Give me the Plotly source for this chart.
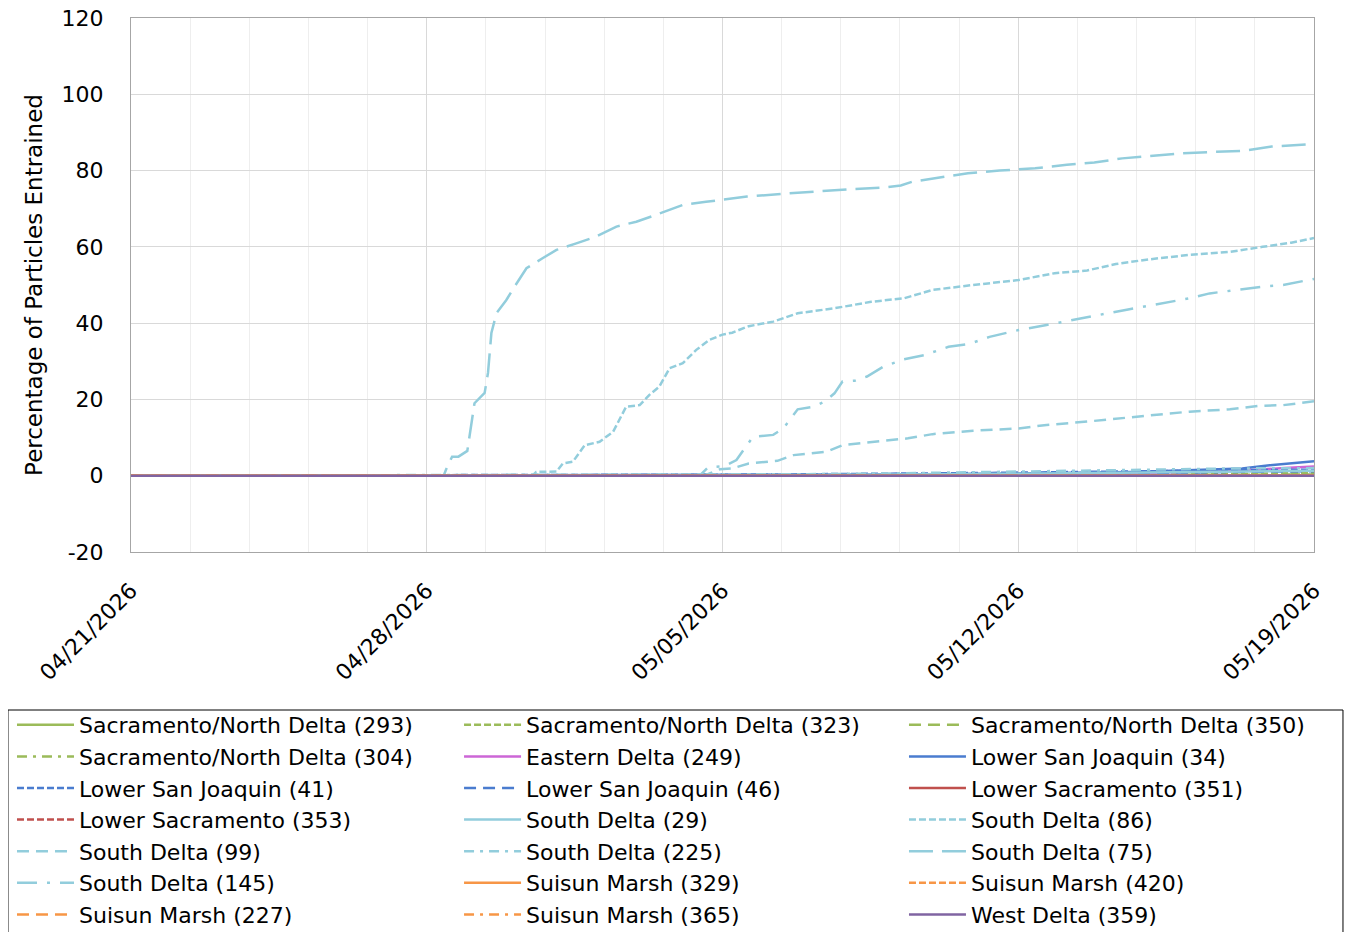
import pandas as pd
import plotly.graph_objects as go

# days after 04/21/2026, and percentage entrained
start = pd.Timestamp("2026-04-21")

sd75_day = [0, 7.4, 7.46, 7.6, 7.75, 7.96, 8.13, 8.37, 8.45, 8.53, 8.65, 8.88, 9.08, 9.36, 9.74,
            10.07, 10.54, 11.01, 11.49, 11.96, 12.43, 12.75, 13.06, 13.61, 14.09, 14.58, 15.42,
            16.17, 17.0, 17.85, 18.22, 18.5, 19.06, 19.81, 20.56, 21.4, 22.15, 22.8, 23.46,
            24.11, 24.86, 25.6, 26.36, 27.0, 28.0]
sd75_val = [0, 0, 1.7, 5.0, 5.0, 6.5, 19, 21.7, 27, 37.4, 42.6, 46, 49.6, 54.4, 57,
            59.2, 60.9, 62.7, 65.3, 66.6, 68.4, 69.7, 71.0, 71.8, 72.5, 73.2, 73.9,
            74.5, 75.1, 75.6, 76.1, 77.1, 78.0, 79.3, 80.0, 80.6, 81.5, 82.1, 83.2,
            83.8, 84.5, 84.9, 85.2, 86.3, 87.0]

sd86_day = [0, 9.5, 9.59, 10.07, 10.22, 10.46, 10.74, 11.09, 11.41, 11.72, 12.04, 12.27, 12.5,
            12.75, 13.06, 13.38, 13.69, 14.0, 14.23, 14.62, 15.2, 15.78, 16.65, 17.52, 18.29,
            18.97, 19.93, 21.01, 21.86, 22.63, 23.31, 24.08, 25.05, 26.01, 26.78, 27.46, 28.0]
sd86_val = [0, 0, 1.0, 1.1, 3.2, 3.7, 8.0, 8.9, 11.5, 18.1, 18.5, 21.2, 23.3,
            28.2, 29.5, 33, 35.6, 37.0, 37.5, 39.2, 40.4, 42.6, 43.9, 45.6, 46.5,
            48.7, 50.0, 51.3, 53.1, 53.8, 55.5, 56.7, 57.9, 58.7, 60.0, 61.1, 62.3]

sd145_day = [0, 13.46, 13.66, 14.04, 14.33, 14.5, 14.72, 15.2, 15.44, 15.78, 16.17, 16.41, 16.65,
             16.84, 17.13, 17.42, 17.81, 18.29, 18.77, 19.35, 19.83, 20.32, 21.01, 21.67, 22.25,
             23.12, 23.6, 24.18, 25.05, 25.53, 26.11, 26.88, 27.27, 28.0]
sd145_val = [0, 0, 2.2, 2.5, 4.1, 6.7, 10.2, 10.7, 12.4, 17.4, 18.1, 19.4, 21.6,
             24.7, 24.9, 26.0, 28.6, 30.5, 31.6, 33.8, 34.5, 36.4, 38.2, 39.5, 40.8,
             42.6, 43.6, 44.8, 46.5, 47.8, 48.7, 49.7, 50.0, 51.6]

sd99_day = [0, 13.56, 13.94, 14.23, 14.62, 15.3, 15.68, 16.46, 16.84, 17.62, 18.39, 18.97, 19.93,
            21.01, 21.67, 22.63, 23.21, 24.08, 25.05, 26.01, 26.69, 27.27, 28.0]
sd99_val = [0, 0, 1.7, 1.9, 3.2, 3.9, 5.4, 6.3, 8.0, 8.9, 9.8, 10.9, 11.8,
            12.4, 13.3, 14.2, 14.8, 15.7, 16.8, 17.4, 18.3, 18.5, 19.5]

sd225_day = [0, 13.5, 16, 18, 20, 22, 24, 26, 28]
sd225_val = [0, 0.2, 0.4, 0.6, 0.9, 1.3, 1.7, 1.9, 2.0]
lsj34_day = [0, 14, 18, 21, 23.7, 25, 26.3, 26.9, 27.7, 28]
lsj34_val = [0, 0.1, 0.3, 0.6, 1.0, 1.4, 1.9, 2.7, 3.4, 3.8]
ed249_day = [0, 21, 23, 24.5, 25.5, 26.5, 27.3, 28]
ed249_val = [0, 0.1, 0.4, 0.8, 1.1, 1.5, 2.0, 2.4]
lsj41_day = [0, 15, 20, 24, 28]
lsj41_val = [0, 0.3, 0.7, 1.1, 1.6]
lsj46_day = [0, 17, 22, 26, 28]
lsj46_val = [0, 0.2, 0.5, 0.9, 1.2]
sd29_day = [0, 16, 21, 25, 28]
sd29_val = [0, 0.2, 0.5, 0.9, 1.3]
snd323_day = [0, 20, 25, 28]
snd323_val = [0, 0.1, 0.4, 0.7]
snd304_day = [0, 22, 28]
snd304_val = [0, 0.1, 0.3]
flat_day = [0, 28]
flat_val = [0, 0]

y_ticks = [-20, 0, 20, 40, 60, 80, 100, 120]
y_labels = ["-20", "0", "20", "40", "60", "80", "100", "120"]

green, magenta, blue = "#9BBB59", "#CC66D6", "#4A7CCF"
red, light, orange, purple = "#C0504D", "#92CDDC", "#F79646", "#8064A2"
DOT, DASH, LDASH = "7px,3px", "12px,7px", "24px,9px"
DDOT, LDDOT = "10px,6px,3px,6px", "20px,10px,3px,10px"

series = [
    ("Sacramento/North Delta (293)", flat_day, flat_val, green, "solid"),
    ("Sacramento/North Delta (323)", snd323_day, snd323_val, green, DOT),
    ("Sacramento/North Delta (350)", flat_day, flat_val, green, DASH),
    ("Sacramento/North Delta (304)", snd304_day, snd304_val, green, DDOT),
    ("Eastern Delta (249)", ed249_day, ed249_val, magenta, "solid"),
    ("Lower San Joaquin (34)", lsj34_day, lsj34_val, blue, "solid"),
    ("Lower San Joaquin (41)", lsj41_day, lsj41_val, blue, DOT),
    ("Lower San Joaquin (46)", lsj46_day, lsj46_val, blue, DASH),
    ("Lower Sacramento (351)", flat_day, flat_val, red, "solid"),
    ("Lower Sacramento (353)", flat_day, flat_val, red, DOT),
    ("South Delta (29)", sd29_day, sd29_val, light, "solid"),
    ("South Delta (86)", sd86_day, sd86_val, light, DOT),
    ("South Delta (99)", sd99_day, sd99_val, light, DASH),
    ("South Delta (225)", sd225_day, sd225_val, light, DDOT),
    ("South Delta (75)", sd75_day, sd75_val, light, LDASH),
    ("South Delta (145)", sd145_day, sd145_val, light, LDDOT),
    ("Suisun Marsh (329)", flat_day, flat_val, orange, "solid"),
    ("Suisun Marsh (420)", flat_day, flat_val, orange, DOT),
    ("Suisun Marsh (227)", flat_day, flat_val, orange, DASH),
    ("Suisun Marsh (365)", flat_day, flat_val, orange, DDOT),
    ("West Delta (359)", flat_day, flat_val, purple, "solid"),
]

# Excel fills the legend row by row in three columns
legend_ids = ["legend", "legend2", "legend3"]

fig = go.Figure()
for i, (name, days, vals, color, dash) in enumerate(series):
    fig.add_trace(go.Scatter(
        x=start + pd.to_timedelta(days, unit="D"), y=vals, name=name, mode="lines",
        line=dict(color=color, dash=dash, width=2.5),
        legend=legend_ids[i % 3],
    ))

week_ticks = [start + pd.Timedelta(days=7 * i) for i in range(5)]

legend_style = dict(
    y=-0.2846, yanchor="top", xanchor="left", orientation="v",
    itemwidth=57, font=dict(size=22), bgcolor="rgba(0,0,0,0)", borderwidth=0,
    traceorder="normal", tracegroupgap=0,
)

# page body has an 8px margin, so the figure is 8px smaller than the window
fig.update_layout(
    width=1351, height=924,
    margin=dict(l=123, r=45, t=10, b=380, autoexpand=False),
    plot_bgcolor="white", paper_bgcolor="white",
    font=dict(family="DejaVu Sans", size=22, color="#000000"),
    showlegend=True,
    legend=dict(x=-0.1006, **legend_style),
    legend2=dict(x=0.2773, **legend_style),
    legend3=dict(x=0.6534, **legend_style),
    shapes=[dict(type="rect", xref="paper", yref="paper",
                 x0=-0.104, x1=1.0245, y0=-0.2959, y1=-0.75,
                 line=dict(color="#000000", width=1))],
)
fig.update_xaxes(
    range=[start, start + pd.Timedelta(days=28)],
    tickvals=week_ticks, tickformat="%m/%d/%Y", tickangle=-45,
    ticklabelstandoff=16, ticklabeloverflow="allow",
    showgrid=True, gridcolor="#d9d9d9", gridwidth=1,
    minor=dict(dtick=1.4 * 86400000, tick0=start, showgrid=True, gridcolor="#eeeeee"),
    showline=True, linecolor="#a6a6a6", mirror=True, ticks="", zeroline=False,
)
fig.update_yaxes(
    range=[-20, 120], tickvals=y_ticks, ticktext=y_labels,
    ticklabelstandoff=22, ticklabeloverflow="allow",
    showgrid=True, gridcolor="#d9d9d9", zeroline=False,
    showline=True, linecolor="#a6a6a6", mirror=True,
    title=dict(text="Percentage of Particles Entrained", font=dict(size=23), standoff=12),
)

fig.write_html("out.html")
